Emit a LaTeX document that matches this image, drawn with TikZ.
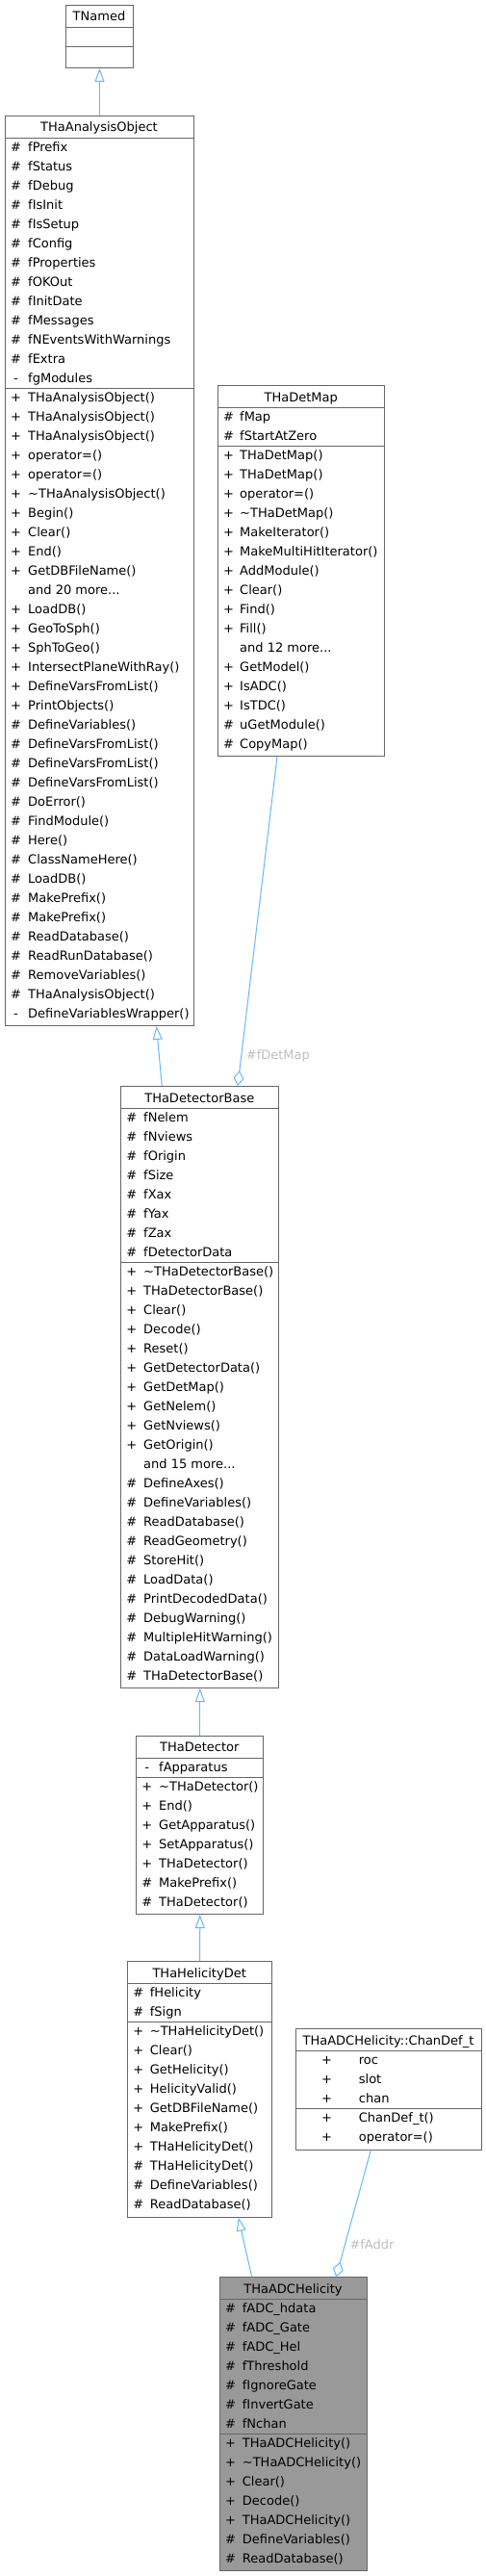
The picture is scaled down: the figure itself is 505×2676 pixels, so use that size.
\documentclass[tikz,border=0pt]{standalone}
\usepackage{fontspec}
\setmainfont{DejaVu Sans}
\usetikzlibrary{arrows.meta,calc}

\definecolor{umlgray}{HTML}{666666}
\definecolor{linkblue}{HTML}{63B8FF}
\definecolor{labelgray}{HTML}{BEBEBE}
\definecolor{mainfill}{HTML}{999999}

% three dots kept out of \foreach's range syntax
\newcommand{\moredots}{...}
% rows of a class compartment: prefix, symbol x, text x, first baseline, list
\newcommand{\memberrows}[5]{%
  \foreach \s/\t [count=\i from 0] in {#5} {
    \node[member, anchor=base] (#1s\i) at (#2,#4+\i*20) {\s};
    \node[member, anchor=base west] (#1t\i) at (#3,#4+\i*20) {\t};
  }}

\begin{document}
\begin{tikzpicture}[x=1pt, y=-1pt,
  classbox/.style={draw=umlgray, line width=1pt, rectangle, inner sep=0pt, anchor=north west},
  divider/.style={draw=umlgray, line width=1pt},
  member/.style={font=\fontsize{13}{20}\selectfont, inner sep=0pt},
  edgelabel/.style={font=\fontsize{13}{20}\selectfont, text=labelgray, inner sep=0pt, anchor=base west},
  inherit/.style={draw=linkblue, line width=1pt, -{Triangle[open, length=14pt, width=10pt]}},
  aggregate/.style={draw=linkblue, line width=1pt, -{Diamond[open, length=16pt, width=11pt]}}]
\useasboundingbox (0,0) rectangle (505,2676);

% class boxes
\node[classbox, minimum width=70pt, minimum height=65pt] (tnamed) at (68,5) {};
\node[classbox, minimum width=196pt, minimum height=945pt] (anaobj) at (5,120) {};
\node[classbox, minimum width=173.3pt, minimum height=385pt] (detmap) at (226,400) {};
\node[classbox, minimum width=164pt, minimum height=625pt] (detbase) at (125.3,1128) {};
\node[classbox, minimum width=132pt, minimum height=185.3pt] (detector) at (141.3,1802.7) {};
\node[classbox, minimum width=149.7pt, minimum height=265.4pt] (heldet) at (132.3,2037.3) {};
\node[classbox, minimum width=193.6pt, minimum height=125.4pt] (chandef) at (306.7,2107.3) {};
\node[classbox, fill=mainfill, minimum width=153.6pt, minimum height=304.7pt] (adchel) at (227.7,2365.3) {};

% compartment lines
\draw[divider] (68,29) -- (138,29);
\draw[divider] (68,49) -- (138,49);
\draw[divider] (5,143.3) -- (201,143.3);
\draw[divider] (5,403.3) -- (201,403.3);
\draw[divider] (226,423.3) -- (399.3,423.3);
\draw[divider] (226,463.3) -- (399.3,463.3);
\draw[divider] (125.3,1151) -- (289.3,1151);
\draw[divider] (125.3,1311) -- (289.3,1311);
\draw[divider] (141.3,1826) -- (273.3,1826);
\draw[divider] (141.3,1846) -- (273.3,1846);
\draw[divider] (132.3,2060.7) -- (282,2060.7);
\draw[divider] (132.3,2100) -- (282,2100);
\draw[divider] (306.7,2130) -- (500.3,2130);
\draw[divider] (306.7,2190) -- (500.3,2190);
\draw[divider] (227.7,2388.7) -- (381.3,2388.7);
\draw[divider] (227.7,2528.7) -- (381.3,2528.7);

% titles
\node[member, anchor=base] (tnamed-title) at (103,22) {TNamed};
\node[member, anchor=base] (anaobj-title) at (103,137) {THaAnalysisObject};
\node[member, anchor=base] (detmap-title) at (312.7,417) {THaDetMap};
\node[member, anchor=base] (detbase-title) at (207.3,1145) {THaDetectorBase};
\node[member, anchor=base] (detector-title) at (207.3,1819.7) {THaDetector};
\node[member, anchor=base] (heldet-title) at (207.2,2054.3) {THaHelicityDet};
\node[member, anchor=base] (chandef-title) at (403.5,2124.3) {THaADCHelicity::ChanDef\_t};
\node[member, anchor=base] (adchel-title) at (304.5,2382.3) {THaADCHelicity};

% members
\memberrows{ao-a}{16.5}{29}{157.3}{\#/fPrefix, \#/fStatus, \#/fDebug, \#/fIsInit, \#/fIsSetup, \#/fConfig,
  \#/fProperties, \#/fOKOut, \#/fInitDate, \#/fMessages, \#/fNEventsWithWarnings, \#/fExtra, -/fgModules}
\memberrows{ao-m}{16.5}{29}{417.3}{+/THaAnalysisObject(), +/THaAnalysisObject(), +/THaAnalysisObject(),
  +/operator=(), +/operator=(), +/\textasciitilde THaAnalysisObject(), +/Begin(), +/Clear(), +/End(),
  +/GetDBFileName(), {}/and 20 more\moredots, +/LoadDB(), +/GeoToSph(), +/SphToGeo(), +/IntersectPlaneWithRay(),
  +/DefineVarsFromList(), +/PrintObjects(), \#/DefineVariables(), \#/DefineVarsFromList(),
  \#/DefineVarsFromList(), \#/DefineVarsFromList(), \#/DoError(), \#/FindModule(), \#/Here(),
  \#/ClassNameHere(), \#/LoadDB(), \#/MakePrefix(), \#/MakePrefix(), \#/ReadDatabase(),
  \#/ReadRunDatabase(), \#/RemoveVariables(), \#/THaAnalysisObject(), -/DefineVariablesWrapper()}
\memberrows{dm-a}{237.5}{249}{437.3}{\#/fMap, \#/fStartAtZero}
\memberrows{dm-m}{237.5}{249}{477.3}{+/THaDetMap(), +/THaDetMap(), +/operator=(), +/\textasciitilde THaDetMap(),
  +/MakeIterator(), +/MakeMultiHitIterator(), +/AddModule(), +/Clear(), +/Find(), +/Fill(),
  {}/and 12 more\moredots, +/GetModel(), +/IsADC(), +/IsTDC(), \#/uGetModule(), \#/CopyMap()}
\memberrows{db-a}{136.7}{149}{1165}{\#/fNelem, \#/fNviews, \#/fOrigin, \#/fSize, \#/fXax, \#/fYax, \#/fZax,
  \#/fDetectorData}
\memberrows{db-m}{136.7}{149}{1325}{+/\textasciitilde THaDetectorBase(), +/THaDetectorBase(), +/Clear(),
  +/Decode(), +/Reset(), +/GetDetectorData(), +/GetDetMap(), +/GetNelem(), +/GetNviews(), +/GetOrigin(),
  {}/and 15 more\moredots, \#/DefineAxes(), \#/DefineVariables(), \#/ReadDatabase(), \#/ReadGeometry(),
  \#/StoreHit(), \#/LoadData(), \#/PrintDecodedData(), \#/DebugWarning(), \#/MultipleHitWarning(),
  \#/DataLoadWarning(), \#/THaDetectorBase()}
\memberrows{de-a}{152.8}{165}{1840}{-/fApparatus}
\memberrows{de-m}{152.8}{165}{1860}{+/\textasciitilde THaDetector(), +/End(), +/GetApparatus(),
  +/SetApparatus(), +/THaDetector(), \#/MakePrefix(), \#/THaDetector()}
\memberrows{hd-a}{143.8}{155.7}{2074.7}{\#/fHelicity, \#/fSign}
\memberrows{hd-m}{143.8}{155.7}{2114}{+/\textasciitilde THaHelicityDet(), +/Clear(), +/GetHelicity(),
  +/HelicityValid(), +/GetDBFileName(), +/MakePrefix(), +/THaHelicityDet(), \#/THaHelicityDet(),
  \#/DefineVariables(), \#/ReadDatabase()}
\memberrows{cd-a}{339.5}{372.7}{2144}{+/roc, +/slot, +/chan}
\memberrows{cd-m}{339.5}{372.7}{2204}{+/ChanDef\_t(), +/operator=()}
\memberrows{ah-a}{239.5}{251.7}{2402.7}{\#/fADC\_hdata, \#/fADC\_Gate, \#/fADC\_Hel, \#/fThreshold,
  \#/fIgnoreGate, \#/fInvertGate, \#/fNchan}
\memberrows{ah-m}{239.5}{251.7}{2542.7}{+/THaADCHelicity(), +/\textasciitilde THaADCHelicity(), +/Clear(),
  +/Decode(), +/THaADCHelicity(), \#/DefineVariables(), \#/ReadDatabase()}

% inheritance
\draw[inherit] (anaobj.north) -- (tnamed.south);
\draw[inherit] ($(detbase.north west)+(43,0)$) -- ($(anaobj.south west)+(157.5,0)$);
\draw[inherit] (detector.north) -- (detbase.south);
\draw[inherit] (heldet.north) -- (detector.south);
\draw[inherit] ($(adchel.north west)+(34,0)$) -- ($(heldet.south west)+(115.4,0)$);

% usage
\draw[aggregate] ($(detmap.south west)+(62,0)$) -- ($(detbase.north west)+(121.7,0)$);
\node[edgelabel] (lbl-detmap) at (255.7,1100.3) {\#fDetMap};
\draw[aggregate] ($(chandef.south west)+(78.6,0)$) -- ($(adchel.north west)+(121.5,0)$);
\node[edgelabel] (lbl-addr) at (363.3,2336.5) {\#fAddr};
\end{tikzpicture}
\end{document}
